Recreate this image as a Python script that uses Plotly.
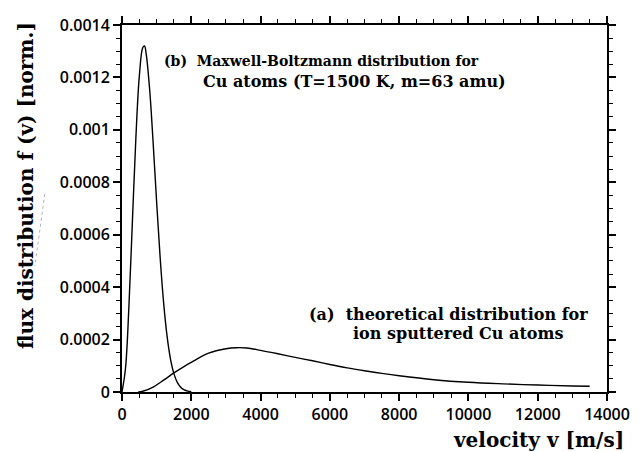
import plotly.graph_objects as go

# (b) Maxwell-Boltzmann distribution, Cu atoms T=1500 K
v_mb = [0, 100, 200, 300, 400, 500, 600, 650, 700, 800, 900, 1000, 1100, 1200,
        1300, 1400, 1500, 1600, 1700, 1800, 1900, 2000]
f_mb = [0, 0.0000885, 0.000328, 0.000650, 0.000968, 0.001205, 0.001314, 0.00132,
        0.001288, 0.001151, 0.000948, 0.000725, 0.000515, 0.000343, 0.000214,
        0.0001255, 0.0000692, 0.0000359, 0.0000176, 0.0000081, 0.0000036, 0.0000015]

# (a) theoretical distribution for ion sputtered Cu atoms
v_sp = [470, 600, 900, 1200, 1500, 1800, 2000, 2500, 3000, 3300, 3600, 4000, 4500,
        5000, 5500, 6000, 6500, 7000, 7500, 8000, 9000, 10000, 11000, 12000, 13000, 13500]
f_sp = [0, 0.000003, 0.000019, 0.000045, 0.000073, 0.000098, 0.000113, 0.000148,
        0.000165, 0.000169, 0.000168, 0.000159, 0.000146, 0.000132, 0.000119,
        0.000105, 0.000092, 0.000081, 0.000071, 0.000062, 0.000047, 0.000037,
        0.000031, 0.0000265, 0.000023, 0.000022]

x_tickvals = [0, 2000, 4000, 6000, 8000, 10000, 12000, 14000]
x_ticktext = ["0", "2000", "4000", "6000", "8000", "10000", "12000", "14000"]
y_tickvals = [0, 0.0002, 0.0004, 0.0006, 0.0008, 0.001, 0.0012, 0.0014]
y_ticktext = ["0", "0.0002", "0.0004", "0.0006", "0.0008", "0.001", "0.0012", "0.0014"]

SERIF = "DejaVu Serif"
SANS = "Open Sans"

fig = go.Figure()
fig.add_trace(go.Scatter(x=v_mb, y=f_mb, mode="lines", line=dict(color="black", width=1.4, shape="spline"),
                         showlegend=False))
fig.add_trace(go.Scatter(x=v_sp, y=f_sp, mode="lines", line=dict(color="black", width=1.4, shape="spline"),
                         showlegend=False))

axis_common = dict(showgrid=False, zeroline=False, showline=True, linecolor="black", linewidth=1.8,
                   mirror="allticks", ticks="outside", ticklen=7, tickwidth=1.5, tickcolor="black",
                   tickfont=dict(family=SANS, size=16, color="black", weight=600))
fig.update_xaxes(range=[0, 14000], tickvals=x_tickvals, ticktext=x_ticktext,
                 minor=dict(dtick=500, ticks="outside", ticklen=4, tickwidth=1, tickcolor="black"),
                 **axis_common)
fig.update_yaxes(range=[0, 0.0014], tickvals=y_tickvals, ticktext=y_ticktext,
                 minor=dict(dtick=0.00005, ticks="outside", ticklen=4, tickwidth=1, tickcolor="black"),
                 **axis_common)

ann_font = dict(family=SERIF, size=16, color="black", weight="bold")
ann_font_small = dict(family=SERIF, size=14, color="black", weight="bold")
fig.add_annotation(x=1143, y=0.0012627, text="(b)  Maxwell-Boltzmann distribution for", showarrow=False,
                   xanchor="left", yanchor="middle", font=ann_font_small)
fig.add_annotation(x=2286, y=0.0011826, text="Cu atoms (T=1500 K, m=63 amu)", showarrow=False,
                   xanchor="left", yanchor="middle", font=ann_font)
fig.add_annotation(x=5343, y=0.0002975, text="(a)  theoretical distribution for", showarrow=False,
                   xanchor="left", yanchor="middle", font=ann_font)
fig.add_annotation(x=6600, y=0.000225, text="ion sputtered Cu atoms", showarrow=False,
                   xanchor="left", yanchor="middle", font=ann_font)

title_font = dict(family=SERIF, size=20, color="black", weight="bold")
fig.add_annotation(xref="paper", yref="paper", x=-0.198, y=0.564, text="flux distribution f (v) [norm.]",
                   textangle=-90, showarrow=False, xanchor="center", yanchor="middle", font=title_font)
fig.add_annotation(xref="paper", yref="paper", x=1.04, y=-0.1308, text="velocity v [m/s]",
                   showarrow=False, xanchor="right", yanchor="middle", font=title_font)

# faint scan artefact next to the y-axis title
fig.add_shape(type="line", xref="paper", yref="paper", x0=(44 - 122) / 490, y0=(392 - 194) / 367,
              x1=(34 - 122) / 490, y1=(392 - 266) / 367, line=dict(color="#b0b0b0", width=1, dash="dot"))

fig.update_layout(width=642, height=452, margin=dict(l=122, r=30, t=25, b=60),
                  paper_bgcolor="white", plot_bgcolor="white")

fig.write_html("out.html")
